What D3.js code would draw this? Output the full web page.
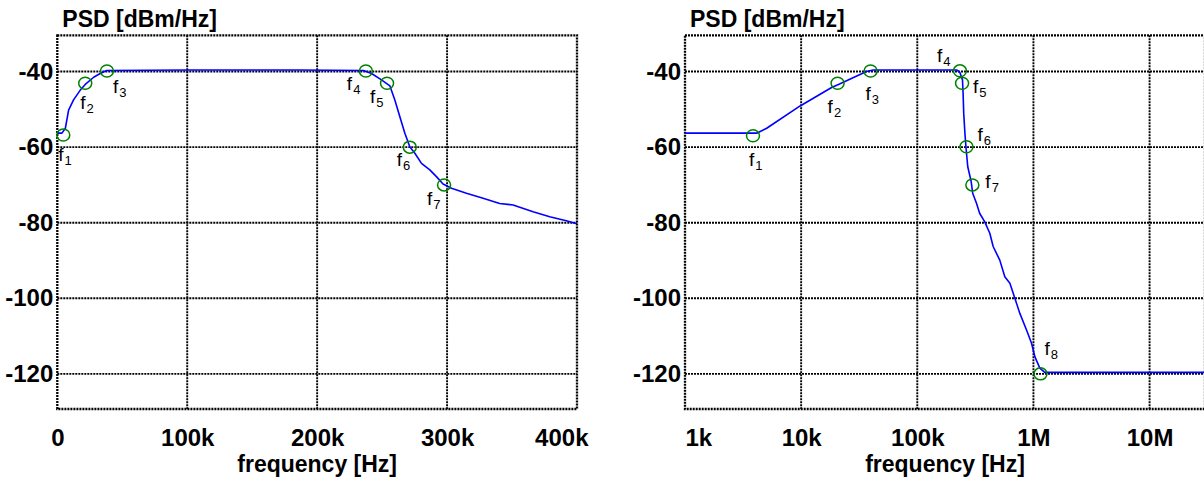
<!DOCTYPE html>
<html>
<head>
<meta charset="utf-8">
<script src="https://cdn.jsdelivr.net/npm/d3@7"></script>
<style>
  html, body { margin: 0; padding: 0; background: #fff; }
  svg { display: block; }
  text { font-family: "Liberation Sans", Arial, sans-serif; fill: #000; }
</style>
</head>
<body>
<svg id="chart" width="1204" height="484"></svg>
<script>
// ---------------- data ----------------
const yTickValues = [-40, -60, -80, -100, -120];
const yTickLabels = ["-40", "-60", "-80", "-100", "-120"];

const linTickValues = [0, 100e3, 200e3, 300e3, 400e3];
const linTickLabels = ["0", "100k", "200k", "300k", "400k"];
const logTickValues = [1e3, 1e4, 1e5, 1e6, 1e7];
const logTickLabels = ["1k", "10k", "100k", "1M", "10M"];

// left panel (linear frequency axis)
const linFreq = [0, 3.6e3, 6.2e3, 8.7e3, 12.5e3, 17.7e3, 21.5e3, 28e3, 33e3, 38e3, 100e3, 186.7e3,
  235.6e3, 241.9e3, 249.5e3, 256e3, 259.8e3, 263.6e3, 267.5e3, 271.3e3, 275.2e3, 280.3e3, 286.7e3,
  291.8e3, 296.9e3, 303.4e3, 314.9e3, 327.7e3, 340.5e3, 350.8e3, 366.2e3, 379e3, 391.8e3, 400e3];
const linPsd = [-56.3, -56.3, -55.0, -50.2, -47.5, -44.9, -43.4, -41.5, -40.5, -39.7, -39.6, -39.6,
  -39.7, -40.5, -42.2, -43.8, -47.5, -51.9, -56.3, -59.9, -61.6, -64.3, -66.0,
  -67.8, -69.75, -70.9, -72.2, -73.5, -74.9, -75.3, -77.1, -78.4, -79.5, -80.3];

// right panel (log frequency axis)
const logFreq = [1e3, 4.14e3, 5.05e3, 9.8e3, 18.3e3, 21.4e3, 36.5e3, 41.7e3, 220e3, 233e3, 245e3,
  248e3, 251e3, 257e3, 263e3, 272e3, 291e3, 300e3, 324e3, 344e3, 380e3, 421e3, 450e3, 513e3,
  567e3, 627e3, 692e3, 764e3, 872e3, 963e3, 1.03e6, 1.135e6, 1.25e6, 3e7];
const logPsd = [-56.3, -56.3, -55.0, -49.1, -44.2, -43.3, -40.0, -39.6, -39.6, -40.3, -42.2,
  -45.8, -51.0, -56.3, -60.3, -65.2, -69.1, -72.2, -74.9, -77.5, -79.7, -82.8, -86.3, -89.9,
  -94.3, -96.0, -100.0, -104.0, -108.4, -111.9, -115.5, -118.5, -119.6, -119.6];

// corner-frequency markers
const linMarkerNames = ["1", "2", "3", "4", "5", "6", "7"];
const linMarkerFreq = [4.6e3, 21.5e3, 38.2e3, 237.5e3, 253.8e3, 271.3e3, 297.7e3];
const linMarkerPsd = [-56.8, -43.1, -39.85, -39.85, -43.1, -60.0, -70.0];

const logMarkerNames = ["1", "2", "3", "4", "5", "6", "7", "8"];
const logMarkerFreq = [3.85e3, 20.6e3, 39.6e3, 233e3, 243e3, 265e3, 298e3, 1.15e6];
const logMarkerPsd = [-57.0, -43.1, -39.85, -39.8, -43.1, -59.9, -70.0, -120.0];

// ---------------- layout / style ----------------
const yDomain = [-129.3, -30.4];
const plotTop = 35.3, plotBottom = 409;
const linLabelOffsets = [[-5, 26], [-5, 26], [6, 22], [-19, 19], [-17, 20], [-13, 19], [-17, 20]];
const logLabelOffsets = [[-4, 30], [-10, 30], [-5, 29], [-23, -9], [11, 10], [11, -6], [13, 3], [4, -19]];

const svg = d3.select("#chart");

function panel(opts) {
  const { x, left, right, ticks, tickLabels, freq, psd, mNames, mFreq, mPsd, offsets, lastEnd, firstStart } = opts;
  const y = d3.scaleLinear().domain(yDomain).range([plotBottom, plotTop]);
  const w = right - left, h = plotBottom - plotTop;
  const g = svg.append("g");

  // grid
  const grid = g.append("g").attr("class", "grid");
  grid.selectAll("line.h").data(yTickValues).join("line").attr("class", "h")
    .attr("x1", left).attr("x2", right)
    .attr("y1", d => y(d)).attr("y2", d => y(d));
  grid.selectAll("line.v").data(ticks.filter(t => x(t) > left + 1 && x(t) < right - 1)).join("line").attr("class", "v")
    .attr("x1", d => x(d)).attr("x2", d => x(d))
    .attr("y1", plotTop).attr("y2", plotBottom);
  grid.selectAll("line")
    .attr("stroke", "#000").attr("stroke-width", 1.9).attr("stroke-dasharray", "2,1");

  // border
  g.append("rect").attr("x", left).attr("y", plotTop).attr("width", w).attr("height", h)
    .attr("fill", "none").attr("stroke", "#000").attr("stroke-width", 2.3).attr("stroke-dasharray", "2,1");

  // y axis labels
  const yAxis = d3.axisLeft(y).tickValues(yTickValues).tickSize(0).tickPadding(4)
    .tickFormat((d, i) => yTickLabels[i]);
  const ya = g.append("g").attr("transform", `translate(${left},0)`).call(yAxis);
  ya.select(".domain").remove();
  ya.selectAll("text").attr("font-size", 24).attr("font-weight", "bold")
    .attr("font-family", "Liberation Sans, Arial, sans-serif").attr("fill", "#000");

  // x axis labels
  const xAxis = d3.axisBottom(x).tickValues(ticks).tickSize(0).tickPadding(0)
    .tickFormat((d, i) => tickLabels[i]);
  const xa = g.append("g").attr("transform", `translate(0,${plotBottom})`).call(xAxis);
  xa.select(".domain").remove();
  xa.selectAll("text").attr("font-size", 24).attr("font-weight", "bold")
    .attr("font-family", "Liberation Sans, Arial, sans-serif").attr("fill", "#000")
    .attr("y", 37).attr("dy", 0);
  if (lastEnd) xa.selectAll(".tick:last-of-type text").attr("text-anchor", "end").attr("dx", 11);
  if (firstStart) xa.selectAll(".tick:first-of-type text").attr("text-anchor", "start").attr("dx", 0);

  // titles
  g.append("text").attr("x", left + 5).attr("y", 27).attr("font-size", 23).attr("font-weight", "bold")
    .text("PSD [dBm/Hz]");
  g.append("text").attr("x", (left + right) / 2).attr("y", 472).attr("text-anchor", "middle")
    .attr("font-size", 23).attr("font-weight", "bold").text("frequency [Hz]");

  // curve
  const pts = freq.map((f, i) => [f, psd[i]]);
  const line = d3.line().x(d => x(d[0])).y(d => y(d[1]));
  g.append("path").datum(pts).attr("d", line)
    .attr("fill", "none").attr("stroke", "#0000ff").attr("stroke-width", 1.6)
    .attr("stroke-linejoin", "round");

  // markers
  const marks = mFreq.map((f, i) => ({ f, p: mPsd[i], n: mNames[i], o: offsets[i] }));
  g.selectAll("ellipse.mk").data(marks).join("ellipse").attr("class", "mk")
    .attr("cx", d => x(d.f)).attr("cy", d => y(d.p)).attr("rx", 6.5).attr("ry", 6)
    .attr("fill", "none").attr("stroke", "#008000").attr("stroke-width", 1.5);

  const lbl = g.selectAll("text.mk").data(marks).join("text").attr("class", "mk")
    .attr("x", d => x(d.f) + d.o[0]).attr("y", d => y(d.p) + d.o[1])
    .attr("font-size", 19);
  lbl.append("tspan").text("f");
  lbl.append("tspan").attr("dy", 4).attr("dx", 1).attr("font-size", 13).text(d => d.n);
}

// left panel
const xLin = d3.scaleLinear().domain([0, 400e3]).range([57.3, 577]);
panel({
  x: xLin, left: 57.3, right: 577, ticks: linTickValues, tickLabels: linTickLabels,
  freq: linFreq, psd: linPsd, mNames: linMarkerNames, mFreq: linMarkerFreq, mPsd: linMarkerPsd,
  offsets: linLabelOffsets, lastEnd: true
});

// right panel
const xLog = d3.scaleLog().domain([1e3, 3e7]).range([685, 1205]);
panel({
  x: xLog, left: 685, right: 1205, ticks: logTickValues, tickLabels: logTickLabels,
  freq: logFreq, psd: logPsd, mNames: logMarkerNames, mFreq: logMarkerFreq, mPsd: logMarkerPsd,
  offsets: logLabelOffsets, firstStart: true
});
</script>
</body>
</html>
